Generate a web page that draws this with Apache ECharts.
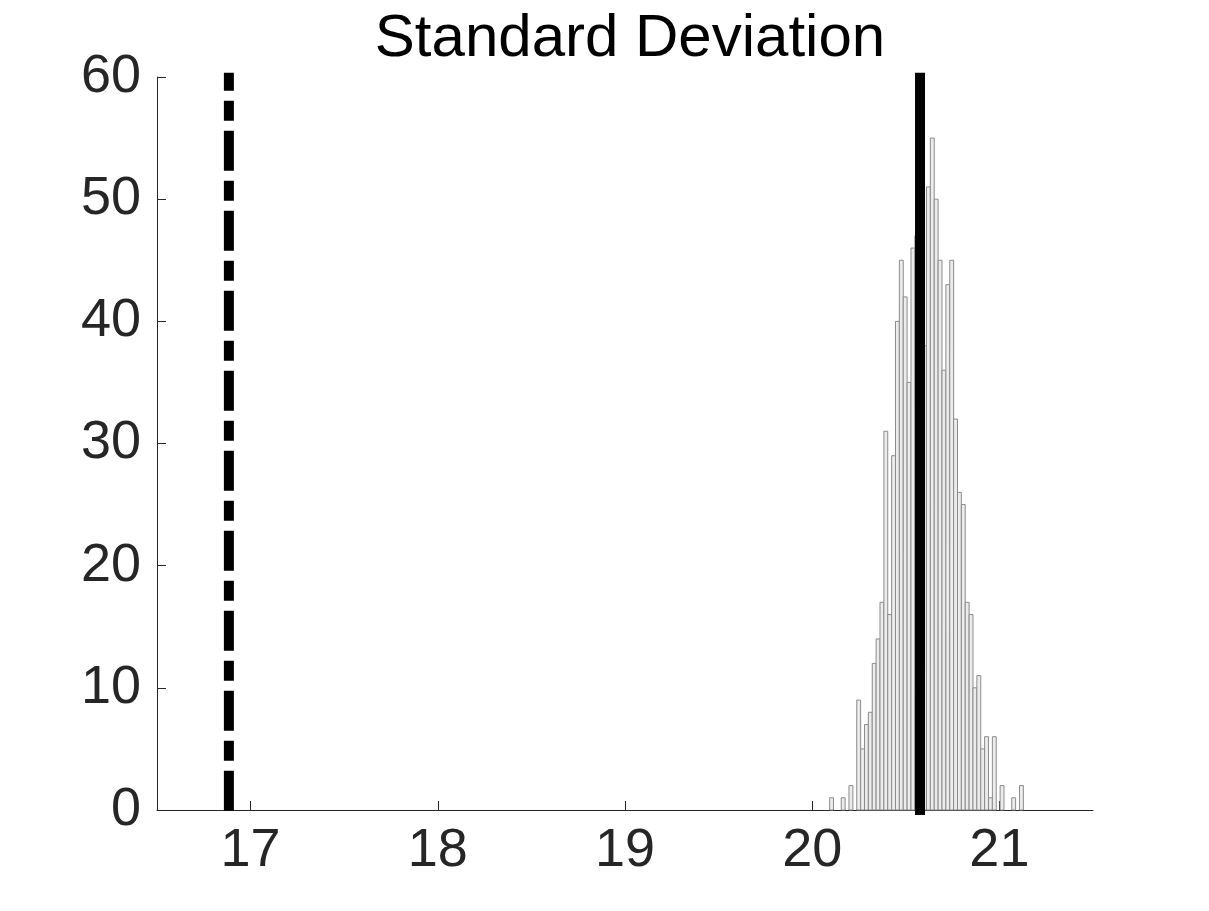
<!DOCTYPE html>
<html>
<head>
<meta charset="utf-8">
<script src="https://cdn.jsdelivr.net/npm/echarts@6/dist/echarts.min.js"></script>
<style>
html,body{margin:0;padding:0;background:#fff;}
#chart{width:1209px;height:911px;}
</style>
</head>
<body>
<div id="chart"></div>
<script>
// ---- data ----
const titleText = 'Standard Deviation';
const xTickValues = [17, 18, 19, 20, 21];
const yTickValues = [0, 10, 20, 30, 40, 50, 60];
const binStart = 20.093;
const binWidth = 0.0207;
const binCounts = [
  1, 0, 0, 1, 0, 2, 0, 9, 5, 7,
  8, 12, 14, 17, 31, 16, 29, 40, 45, 42,
  35, 46, 47, 50, 38, 51, 55, 50, 45, 36,
  43, 45, 32, 26, 25, 17, 16, 10, 11, 5,
  6, 1, 6, 0, 2, 0, 0, 1, 0, 2
];
const dashedLineX = 16.884;
const solidLineX = 20.576;
const lineYRange = [60.35, -0.4];

// ---- build series data ----
const histData = binCounts.map((c, i) => [binStart + i * binWidth, binStart + (i + 1) * binWidth, c]);

const chart = echarts.init(document.getElementById('chart'), null, {renderer: 'canvas'});
const axisColor = '#262626';
const font = '"Liberation Sans", Arial, Helvetica, sans-serif';

chart.setOption({
  animation: false,
  backgroundColor: '#ffffff',
  title: {
    text: titleText,
    left: 625,
    textAlign: 'center',
    top: 4,
    textStyle: {fontFamily: font, fontSize: 60, fontWeight: 'normal', color: '#000', lineHeight: 60}
  },
  grid: {left: 157, right: 116, top: 77, bottom: 101, containLabel: false},
  xAxis: {
    type: 'value',
    min: 16.5,
    max: 21.5,
    axisLine: {show: true, onZero: false, lineStyle: {color: axisColor, width: 1}},
    axisTick: {show: true, inside: true, length: 9, customValues: xTickValues, lineStyle: {color: axisColor, width: 1}},
    axisLabel: {show: true, customValues: xTickValues, margin: 14, fontFamily: font, fontSize: 54, color: axisColor, lineHeight: 54},
    splitLine: {show: false}
  },
  yAxis: {
    type: 'value',
    min: 0,
    max: 60,
    interval: 10,
    axisLine: {show: true, lineStyle: {color: axisColor, width: 1}},
    axisTick: {show: true, inside: true, length: 9, lineStyle: {color: axisColor, width: 1}},
    axisLabel: {show: true, margin: 16, fontFamily: font, fontSize: 54, color: axisColor, lineHeight: 54},
    splitLine: {show: false}
  },
  series: [
    {
      type: 'custom',
      name: 'hist',
      data: histData,
      encode: {x: [0, 1], y: 2},
      renderItem: function (params, api) {
        const c = api.value(2);
        if (!c) return null;
        const p0 = api.coord([api.value(0), 0]);
        const p1 = api.coord([api.value(1), c]);
        return {
          type: 'rect',
          shape: {x: p0[0], y: p1[1], width: p1[0] - p0[0], height: p0[1] - p1[1]},
          style: {fill: '#ececec', stroke: '#8c8c8c', lineWidth: 1}
        };
      },
      z: 2
    },
    {
      type: 'line',
      name: 'dashed',
      data: [[dashedLineX, lineYRange[0]], [dashedLineX, lineYRange[1]]],
      symbol: 'none',
      clip: false,
      lineStyle: {color: '#000', width: 10, type: [40, 10, 20, 10], dashOffset: 22, cap: 'butt'},
      z: 3
    },
    {
      type: 'line',
      name: 'solid',
      data: [[solidLineX, lineYRange[0]], [solidLineX, lineYRange[1]]],
      symbol: 'none',
      clip: false,
      lineStyle: {color: '#000', width: 10, type: 'solid', cap: 'butt'},
      z: 3
    }
  ]
});
</script>
</body>
</html>
